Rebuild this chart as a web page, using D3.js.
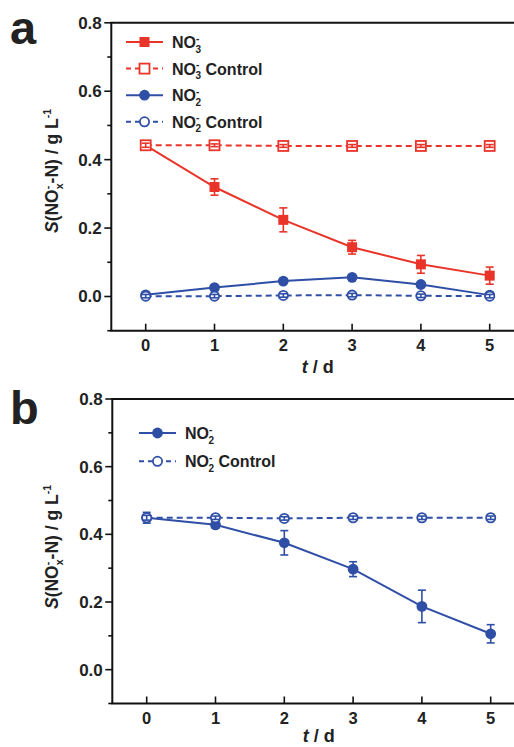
<!DOCTYPE html>
<html>
<head>
<meta charset="utf-8">
<script src="https://cdn.jsdelivr.net/npm/d3@7"></script>
<style>
  body { margin: 0; background: #fff; }
  text { font-family: "Liberation Sans", Arial, sans-serif; font-weight: bold; }
</style>
</head>
<body>
<div id="chart"></div>
<script>
// days on the x axis
var days = [0, 1, 2, 3, 4, 5];
var yTicks = [0.0, 0.2, 0.4, 0.6, 0.8];
var yMinor = [-0.1, 0.1, 0.3, 0.5, 0.7];

// panel a
var no3 = [0.442, 0.320, 0.224, 0.144, 0.094, 0.061];
var no3Err = [0.012, 0.024, 0.035, 0.020, 0.026, 0.025];
var no3Ctrl = [0.442, 0.442, 0.440, 0.440, 0.440, 0.440];
var no3CtrlErr = [0.006, 0.004, 0.004, 0.004, 0.004, 0.004];
var no2a = [0.005, 0.026, 0.045, 0.056, 0.035, 0.004];
var no2aErr = [0.005, 0.005, 0.005, 0.005, 0.005, 0.005];
var no2aCtrl = [0.001, 0.001, 0.003, 0.004, 0.002, 0.001];
var no2aCtrlErr = [0.005, 0.005, 0.005, 0.005, 0.005, 0.005];

// panel b
var no2b = [0.449, 0.428, 0.375, 0.297, 0.187, 0.106];
var no2bErr = [0.016, 0.010, 0.036, 0.022, 0.048, 0.027];
var no2bCtrl = [0.449, 0.449, 0.447, 0.449, 0.449, 0.449];
var no2bCtrlErr = [0.007, 0.005, 0.005, 0.005, 0.005, 0.005];

var RED = "#e9342a", BLUE = "#2f4fa6";

var svg = d3.select("#chart").append("svg")
  .attr("width", 514).attr("height", 747);

// NO + stacked super "-" and subscript
function ion(t, sub, rest, small) {
  t.append("tspan").text("NO");
  t.append("tspan").attr("font-size", small).attr("dy", -6.5).text("-");
  t.append("tspan").attr("font-size", small).attr("dx", -3.8).attr("dy", 11).text(sub);
  if (rest) t.append("tspan").attr("dy", -4.5).text(rest);
}

function panel(opt) {
  var x = d3.scaleLinear().domain([-0.5, 5.5]).range([opt.left, opt.left + 6 * 68.8]);
  var y = d3.scaleLinear().domain([-0.1, 0.8]).range([opt.bottom, opt.top]);
  var g = svg.append("g");

  // panel letter
  g.append("text").attr("x", 10).attr("y", opt.letterY)
    .attr("font-size", 47).attr("fill", "#222").text(opt.letter);

  // frame: left, bottom, top
  g.append("line").attr("x1", x(-0.5)).attr("x2", x(-0.5))
    .attr("y1", y(0.8)).attr("y2", y(-0.1))
    .attr("stroke", "#111").attr("stroke-width", 2);
  g.append("line").attr("x1", x(-0.5) - 1).attr("x2", 514)
    .attr("y1", y(-0.1)).attr("y2", y(-0.1))
    .attr("stroke", "#111").attr("stroke-width", 2);
  g.append("line").attr("x1", x(-0.5) - 1).attr("x2", 514)
    .attr("y1", y(0.8)).attr("y2", y(0.8))
    .attr("stroke", "#111").attr("stroke-width", 2);

  // y ticks (outward)
  g.selectAll(".ymaj").data(yTicks).enter().append("line")
    .attr("x1", x(-0.5) - 7).attr("x2", x(-0.5))
    .attr("y1", d => y(d)).attr("y2", d => y(d))
    .attr("stroke", "#111").attr("stroke-width", 1.6);
  g.selectAll(".ymin").data(yMinor).enter().append("line")
    .attr("x1", x(-0.5) - 4).attr("x2", x(-0.5))
    .attr("y1", d => y(d)).attr("y2", d => y(d))
    .attr("stroke", "#111").attr("stroke-width", 1.6);
  g.selectAll(".ylab").data(yTicks).enter().append("text")
    .attr("x", x(-0.5) - 9.5).attr("y", d => y(d) + 6)
    .attr("text-anchor", "end").attr("font-size", 17).attr("fill", "#222")
    .text(d3.format(".1f"));

  // x ticks (inward)
  g.selectAll(".xt").data(days).enter().append("line")
    .attr("x1", d => x(d)).attr("x2", d => x(d))
    .attr("y1", y(-0.1) - 7).attr("y2", y(-0.1))
    .attr("stroke", "#111").attr("stroke-width", 1.6);
  g.selectAll(".xlab").data(days).enter().append("text")
    .attr("x", d => x(d)).attr("y", y(-0.1) + 20.5)
    .attr("text-anchor", "middle").attr("font-size", 16.5).attr("fill", "#222")
    .text(d => d);

  // x label
  var xl = g.append("text").attr("x", x(2.5)).attr("y", y(-0.1) + opt.xLabelGap)
    .attr("text-anchor", "middle").attr("font-size", 18).attr("fill", "#222");
  xl.append("tspan").attr("font-style", "italic").text("t");
  xl.append("tspan").text(" / d");

  // y label
  var yl = g.append("text")
    .attr("transform", "translate(" + 58 + "," + opt.labelY + ") rotate(-90)")
    .attr("text-anchor", "middle").attr("font-size", 17.5).attr("fill", "#222");
  yl.append("tspan").attr("font-style", "italic").text("S");
  yl.append("tspan").text("(NO");
  yl.append("tspan").attr("font-size", 10.5).attr("dy", -7).text("-");
  yl.append("tspan").attr("font-size", 10.5).attr("dx", -3.5).attr("dy", 12).text("x");
  yl.append("tspan").attr("dy", -5).text("-N) / g L");
  yl.append("tspan").attr("font-size", 10.5).attr("dy", -7).text("-1");

  var line = d3.line().x((d, i) => x(days[i])).y(d => y(d));

  opt.series.forEach(function(s) {
    var sg = g.append("g");
    sg.append("path").datum(s.values)
      .attr("d", line).attr("fill", "none")
      .attr("stroke", s.color).attr("stroke-width", 2)
      .attr("stroke-dasharray", s.dashed ? "6,4" : null);
    drawMarkers(sg, s, x, y);
  });

  // legend
  var lg = g.append("g");
  opt.series.forEach(function(s, i) {
    var ly = opt.legendY + i * opt.legendStep;
    var lx = opt.legendX;
    lg.append("line").attr("x1", lx).attr("x2", lx + 37)
      .attr("y1", ly).attr("y2", ly)
      .attr("stroke", s.color).attr("stroke-width", 2)
      .attr("stroke-dasharray", s.dashed ? "5,4" : null);
    addMarker(lg, s, lx + 18.5, ly);
    var t = lg.append("text").attr("x", lx + 46).attr("y", ly + 6)
      .attr("font-size", 16).attr("fill", "#222");
    ion(t, s.ion, s.dashed ? " Control" : null, 10);
  });
}

function addMarker(sel, s, cx, cy) {
  var fill = s.open ? "#fff" : s.color;
  if (s.shape === "square") {
    sel.append("rect").attr("x", cx - 5).attr("y", cy - 5)
      .attr("width", 10).attr("height", 10)
      .attr("fill", fill).attr("stroke", s.color).attr("stroke-width", s.open ? 1.8 : 0);
  } else {
    sel.append("circle").attr("cx", cx).attr("cy", cy).attr("r", s.open ? 4.6 : 5.4)
      .attr("fill", fill).attr("stroke", s.color).attr("stroke-width", s.open ? 1.8 : 0);
  }
}

function drawMarkers(sg, s, x, y) {
  s.values.forEach(function(v, i) {
    var cx = x(days[i]);
    addMarker(sg, s, cx, y(v));
    var e = s.err[i];
    sg.append("line").attr("x1", cx).attr("x2", cx)
      .attr("y1", y(v - e)).attr("y2", y(v + e))
      .attr("stroke", s.color).attr("stroke-width", 1.6);
    [v - e, v + e].forEach(function(w) {
      sg.append("line").attr("x1", cx - 4).attr("x2", cx + 4)
        .attr("y1", y(w)).attr("y2", y(w))
        .attr("stroke", s.color).attr("stroke-width", 1.6);
    });
  });
}

panel({
  letter: "a", letterY: 44,
  left: 111.3, top: 22.8, bottom: 330.7, labelY: 171, xLabelGap: 42,
  legendX: 126, legendY: 42, legendStep: 26.6,
  series: [
    {ion: "3", values: no3, err: no3Err, color: RED, shape: "square", open: false, dashed: false},
    {ion: "3", values: no3Ctrl, err: no3CtrlErr, color: RED, shape: "square", open: true, dashed: true},
    {ion: "2", values: no2a, err: no2aErr, color: BLUE, shape: "circle", open: false, dashed: false},
    {ion: "2", values: no2aCtrl, err: no2aCtrlErr, color: BLUE, shape: "circle", open: true, dashed: true}
  ]
});

panel({
  letter: "b", letterY: 424,
  left: 112.3, top: 399, bottom: 703.5, labelY: 547, xLabelGap: 38.5,
  legendX: 139, legendY: 433, legendStep: 28.3,
  series: [
    {ion: "2", values: no2b, err: no2bErr, color: BLUE, shape: "circle", open: false, dashed: false},
    {ion: "2", values: no2bCtrl, err: no2bCtrlErr, color: BLUE, shape: "circle", open: true, dashed: true}
  ]
});
</script>
</body>
</html>
